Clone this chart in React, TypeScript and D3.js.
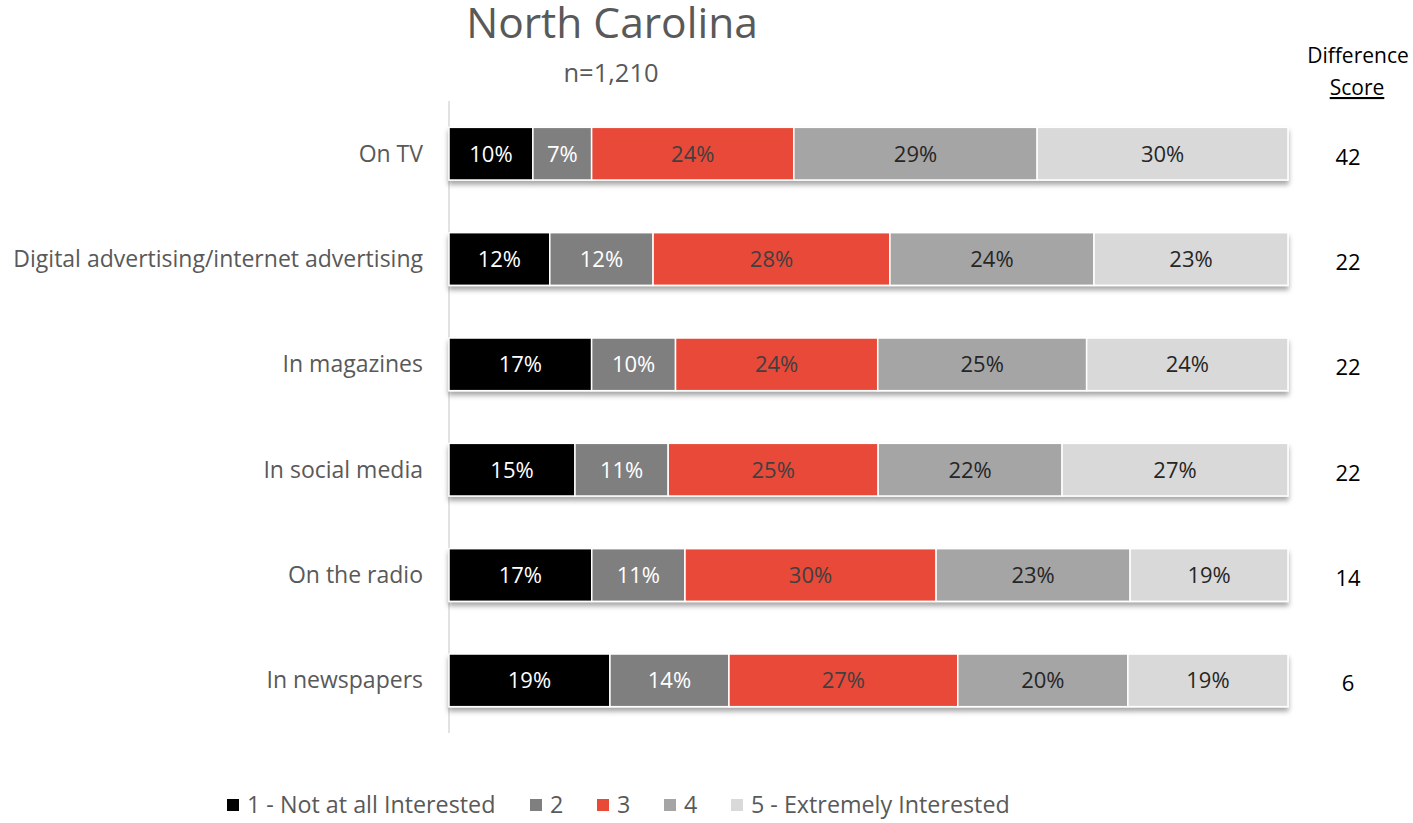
import React from "react";
import * as d3 from "d3";

const categories = [
  "On TV",
  "Digital advertising/internet advertising",
  "In magazines",
  "In social media",
  "On the radio",
  "In newspapers",
];
const seriesNames = ["1 - Not at all Interested", "2", "3", "4", "5 - Extremely Interested"];
const s1 = [10.0, 12.0, 17.0, 15.0, 17.0, 19.2];
const s2 = [7.0, 12.3, 10.0, 11.1, 11.1, 14.2];
const s3 = [24.1, 28.2, 24.1, 25.0, 29.9, 27.3];
const s4 = [29.0, 24.3, 24.9, 21.9, 23.1, 20.3];
const s5 = [29.9, 23.1, 24.0, 26.9, 18.8, 19.1];
const diffScores = [42, 22, 22, 22, 14, 6];

const colors = ["#000000", "#7f7f7f", "#e84a37", "#a5a5a5", "#d9d9d9"];
const labelColors = ["#ffffff", "#ffffff", "#404040", "#262626", "#262626"];

const FONT = "'Open Sans', Lato, sans-serif";

export default function App() {
  const W = 1413, H = 823;
  const left = 449, right = 1288, top = 101, bottom = 733;
  const series = [s1, s2, s3, s4, s5];
  const x = d3.scaleLinear().domain([0, 100]).range([left, right]);
  const y = d3.scaleBand().domain(categories).range([top, bottom]).paddingInner(0.5).paddingOuter(0.25);
  const rows = categories.map((c, i) => {
    const vals = series.map((s) => s[i]);
    const total = d3.sum(vals);
    let acc = 0;
    return vals.map((v, k) => {
      const x0 = acc;
      acc += v;
      return { x0: (x0 / total) * 100, x1: (acc / total) * 100, v, k };
    });
  });
  const legendX = [227, 530, 597, 664, 731];
  return (
    <svg width={W} height={H} style={{ position: "absolute", left: 0, top: 0, fontFamily: FONT }}>
      <defs>
        <filter id="shadow" x="-5%" y="-30%" width="110%" height="180%">
          <feDropShadow dx="0" dy="4" stdDeviation="2.5" floodColor="#000" floodOpacity="0.35" />
        </filter>
      </defs>
      <rect width={W} height={H} fill="#fff" />
      <text x={612} y={38} textAnchor="middle" fontSize={42.5} fill="#595959">North Carolina</text>
      <text x={611} y={82} textAnchor="middle" fontSize={25.5} fill="#595959">n=1,210</text>
      <text x={1358} y={63} textAnchor="middle" fontSize={21} fill="#000">Difference</text>
      <text x={1357} y={95} textAnchor="middle" fontSize={21} fill="#000" textDecoration="underline">Score</text>
      <line x1={left} x2={left} y1={top} y2={bottom} stroke="#d9d9d9" strokeWidth={1.5} />
      {categories.map((c, i) => {
        const yy = y(c)!;
        const bh = y.bandwidth();
        return (
          <g key={c}>
            <text x={423} y={yy + bh / 2} dy="0.35em" textAnchor="end" fontSize={23} fill="#595959">{c}</text>
            <g filter="url(#shadow)">
              {rows[i].map((seg) => (
                <rect key={seg.k} x={x(seg.x0)} y={yy} width={x(seg.x1) - x(seg.x0)} height={bh}
                  fill={colors[seg.k]} stroke="#fff" strokeWidth={1.5} />
              ))}
            </g>
            {rows[i].map((seg) => (
              <text key={"t" + seg.k} x={(x(seg.x0) + x(seg.x1)) / 2} y={yy + bh / 2} dy="0.36em"
                textAnchor="middle" fontSize={22} fill={labelColors[seg.k]}>{Math.round(seg.v) + "%"}</text>
            ))}
            <text x={1348} y={yy + bh / 2 + 3} dy="0.36em" textAnchor="middle" fontSize={22} fill="#000">{diffScores[i]}</text>
          </g>
        );
      })}
      {seriesNames.map((n, k) => (
        <g key={n}>
          <rect x={legendX[k]} y={799} width={12} height={12} fill={colors[k]} />
          <text x={legendX[k] + 20} y={813} fontSize={23.3} fill="#595959">{n}</text>
        </g>
      ))}
    </svg>
  );
}
